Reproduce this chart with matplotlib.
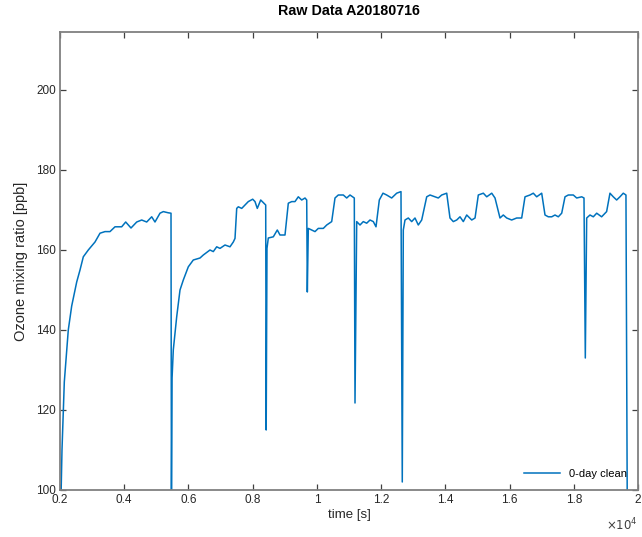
import matplotlib
matplotlib.use("Agg")
import matplotlib.pyplot as plt
from matplotlib.ticker import FixedLocator, FixedFormatter

plt.rcParams['font.family'] = ['Liberation Sans', 'DejaVu Sans']

title = "Raw Data A20180716"
xlabel = "time [s]"
ylabel = "Ozone mixing ratio [ppb]"
legend_label = "0-day clean"

# (time [s], ozone [ppb]), one list per cleaning cycle
cycle1 = [(2031, 98), (2062, 110), (2134, 127), (2258, 140), (2364, 146), (2520, 152),
          (2623, 155), (2726, 158.3), (2881, 160), (3090, 162), (3246, 164.2),
          (3401, 164.6), (3557, 164.6), (3713, 165.8), (3921, 165.8), (4046, 167),
          (4211, 165.5), (4389, 167), (4544, 167.5), (4700, 167), (4856, 168.3),
          (4958, 167), (5114, 169.2), (5217, 169.6), (5373, 169.3), (5457, 169.2)]
cycle2 = [(5470, 96), (5490, 128), (5528, 135), (5634, 143.3), (5737, 150),
          (5840, 152.5), (5996, 155.8), (6151, 157.5), (6360, 158), (6463, 158.75),
          (6671, 160), (6774, 159.6), (6880, 160.8), (6983, 160.4), (7138, 161.25),
          (7294, 160.8), (7397, 162), (7450, 162.9), (7503, 170.4), (7553, 170.8),
          (7659, 170.4), (7761, 171.25), (7864, 172.1), (8001, 172.7), (8073, 172.1),
          (8144, 170.4), (8250, 172.5), (8353, 171.7), (8406, 171.25)]
cycle3 = [(8421, 115), (8446, 160.4), (8487, 163), (8643, 163.3), (8767, 165),
          (8851, 163.75), (9007, 163.75), (9110, 171.7), (9216, 172.1), (9318, 172.1),
          (9421, 173.3), (9527, 172.5), (9630, 173), (9683, 172.5)]
cycle4 = [(9702, 149.5), (9733, 165.4), (9839, 165), (9941, 164.6), (10044, 165.4),
          (10200, 165.4), (10306, 166.25), (10461, 167.1), (10564, 173),
          (10667, 173.75), (10823, 173.75), (10929, 173), (11031, 173.75), (11165, 173)]
cycle5 = [(11187, 121.75), (11240, 167.1), (11343, 166.25), (11445, 167.1),
          (11551, 166.7), (11654, 167.5), (11757, 167.1), (11841, 165.8),
          (11944, 172.5), (12058, 174.2), (12173, 173.75), (12329, 173),
          (12485, 174.2), (12619, 174.6)]
cycle6 = [(12659, 102), (12691, 165), (12744, 167.5), (12847, 168), (12952, 167.1),
          (13055, 168), (13158, 166.25), (13264, 167.5), (13420, 173.3),
          (13523, 173.75), (13678, 173.3), (13781, 173), (13887, 173.75),
          (14043, 174.2), (14145, 168), (14248, 167.1), (14354, 167.5), (14457, 168.3),
          (14560, 167.1), (14666, 168.75), (14822, 167.5), (14925, 168),
          (15027, 173.75), (15183, 174.2), (15289, 173.3), (15445, 174.2),
          (15547, 173), (15702, 168), (15805, 168.75), (15911, 168), (16066, 167.5),
          (16222, 168), (16378, 168), (16481, 173.3), (16636, 173.75), (16739, 174.2),
          (16845, 173.3), (17001, 174.2), (17104, 168.75), (17207, 168.3),
          (17313, 168.3), (17415, 168.75), (17518, 168.3), (17624, 169.2),
          (17727, 173.3), (17830, 173.75), (17985, 173.75), (18091, 173),
          (18247, 173.3), (18318, 173)]
cycle7 = [(18359, 133), (18402, 168), (18505, 168.75), (18608, 168.3), (18714, 169.2),
          (18867, 168.3), (19023, 169.6), (19127, 174.2), (19230, 173.3),
          (19335, 172.5), (19438, 173.3), (19541, 174.2), (19625, 173.75), (19666, 95)]

x_ticks = [2000, 4000, 6000, 8000, 10000, 12000, 14000, 16000, 18000, 20000]
x_ticklabels = ["0.2", "0.4", "0.6", "0.8", "1", "1.2", "1.4", "1.6", "1.8", "2"]
y_ticks = [100, 120, 140, 160, 180, 200]

points = cycle1 + cycle2 + cycle3 + cycle4 + cycle5 + cycle6 + cycle7
time_s = [p[0] for p in points]
ozone_ppb = [p[1] for p in points]

fig = plt.figure(figsize=(6.42, 5.37), dpi=100)
ax = fig.add_axes([60/642, 1-490/537, 578/642, 458/537])

ax.plot(time_s, ozone_ppb, color='#0072BD', lw=1.1, label=legend_label)

ax.set_xlim(2000, 20000)
ax.set_ylim(100, 214.5)
ax.xaxis.set_major_locator(FixedLocator(x_ticks))
ax.xaxis.set_major_formatter(FixedFormatter(x_ticklabels))
ax.set_yticks(y_ticks)

for s in ax.spines.values():
    s.set_color('#808080')
    s.set_linewidth(1.3)
ax.tick_params(direction='in', length=4, width=0.9, color='#404040',
               labelcolor='#262626', labelsize=8.5, top=True, right=True, pad=3)

ax.set_title(title, fontsize=10.3, fontweight='bold', color='black', pad=12)
ax.set_xlabel(xlabel, fontsize=9.5, color='#262626', labelpad=2)
ax.set_ylabel(ylabel, fontsize=10.5, color='#262626', labelpad=6)

ax.text(1.0, -0.058, r"$\times10^{4}$", transform=ax.transAxes, ha='right', va='top',
        fontsize=8.5, color='#404040')

ax.legend(loc='lower right', frameon=False, fontsize=8, handlelength=3.2,
          borderaxespad=0.6)

fig.savefig("out.png", dpi=100)
